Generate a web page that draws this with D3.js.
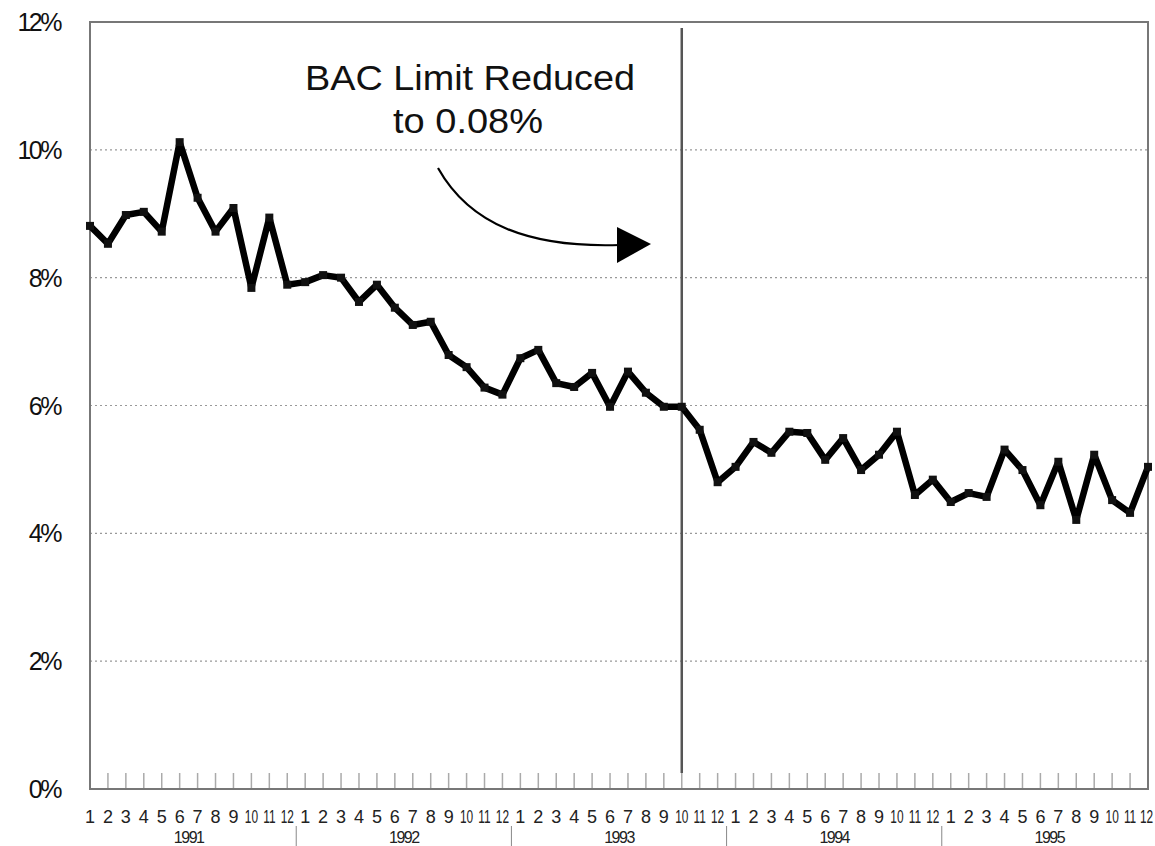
<!DOCTYPE html>
<html><head><meta charset="utf-8">
<script src="https://cdn.jsdelivr.net/npm/d3@7"></script>
<style>body{margin:0;background:#fff}svg{display:block}text{font-family:"Liberation Sans",Arial,sans-serif}</style>
</head><body>
<svg id="c" width="1155" height="846"></svg>
<script>
const years = ["1991","1992","1993","1994","1995"];
const monthLabels = ["1","2","3","4","5","6","7","8","9","10","11","12"];
const values1991 = [8.81,8.53,8.98,9.03,8.72,10.12,9.25,8.72,9.09,7.84,8.94,7.89];
const values1992 = [7.93,8.04,8.00,7.62,7.89,7.53,7.26,7.31,6.79,6.60,6.28,6.17];
const values1993 = [6.74,6.87,6.35,6.29,6.51,5.98,6.53,6.20,5.98,5.98,5.62,4.80];
const values1994 = [5.04,5.43,5.26,5.59,5.57,5.15,5.49,4.99,5.23,5.59,4.60,4.84];
const values1995 = [4.49,4.63,4.57,5.31,4.99,4.44,5.12,4.21,5.23,4.52,4.32,5.04];
const yTicks = [0,2,4,6,8,10,12];
const eventIndex = 33; // Oct 1993
const annotationLines = ["BAC Limit Reduced","to 0.08%"];

const series = [values1991,values1992,values1993,values1994,values1995].flat();
const svg = d3.select("#c");
const L=90,R=1148,T=22,B=789;
const x = d3.scaleLinear().domain([0,series.length-1]).range([L,R]);
const y = d3.scaleLinear().domain([0,12]).range([B,T]);

// gridlines
svg.append("g").selectAll("line").data(yTicks.filter(d=>d>0&&d<12)).join("line")
  .attr("x1",L).attr("x2",R).attr("y1",d=>y(d)).attr("y2",d=>y(d))
  .attr("stroke","#999").attr("stroke-width",1.2).attr("stroke-dasharray","2,3");

// month ticks
svg.append("g").selectAll("line").data(d3.range(1,series.length-1)).join("line")
  .attr("x1",d=>x(d)).attr("x2",d=>x(d)).attr("y1",B).attr("y2",B-16)
  .attr("stroke","#aaa").attr("stroke-width",1.5);

// frame
svg.append("rect").attr("x",L).attr("y",T).attr("width",R-L).attr("height",B-T)
  .attr("fill","none").attr("stroke","#777").attr("stroke-width",2);

// y labels
svg.append("g").selectAll("text").data(yTicks).join("text")
  .attr("x",60).attr("y",d=>y(d)+9).attr("text-anchor","end")
  .attr("font-size",25).attr("letter-spacing",-2.5).attr("fill","#111")
  .text(d=>d+"%");

// month labels
const months = series.map((v,i)=>monthLabels[i%12]);
const last = months.length-1;
svg.append("g").selectAll("g").data(months).join("g")
  .attr("transform",(d,i)=>`translate(${i===last?x(i)-1.5:x(i)},823) scale(${d.length>1?0.66:1},1)`)
  .append("text").attr("text-anchor","middle")
  .attr("font-size",18).attr("fill","#222")
  .text(d=>d);

// year labels and separators
svg.append("g").selectAll("text").data(years).join("text")
  .attr("x",(d,i)=>(x(i*12)+x(i*12+11))/2).attr("y",843).attr("text-anchor","middle")
  .attr("font-size",16).attr("letter-spacing",-1.5).attr("fill","#222")
  .text(d=>d);
svg.append("g").selectAll("line").data(d3.range(1,years.length)).join("line")
  .attr("x1",d=>x(d*12-0.5)).attr("x2",d=>x(d*12-0.5)).attr("y1",826).attr("y2",846)
  .attr("stroke","#888").attr("stroke-width",1);

// event line
svg.append("line").attr("x1",x(eventIndex)).attr("x2",x(eventIndex))
  .attr("y1",28).attr("y2",773).attr("stroke","#555").attr("stroke-width",2.5);

// data line
svg.append("path").datum(series)
  .attr("d",d3.line().x((d,i)=>x(i)).y(d=>y(d)))
  .attr("fill","none").attr("stroke","#000").attr("stroke-width",6.5).attr("stroke-linejoin","round");
svg.append("g").selectAll("rect").data(series).join("rect")
  .attr("x",(d,i)=>x(i)-4).attr("y",d=>y(d)-4).attr("width",8).attr("height",8).attr("fill","#111");

// annotation
svg.append("text").attr("x",470).attr("y",90).attr("text-anchor","middle")
  .attr("font-size",35).attr("fill","#111")
  .attr("textLength",330).attr("lengthAdjust","spacingAndGlyphs").text(annotationLines[0]);
svg.append("text").attr("x",468).attr("y",133).attr("text-anchor","middle")
  .attr("font-size",35).attr("fill","#111")
  .attr("textLength",150).attr("lengthAdjust","spacingAndGlyphs").text(annotationLines[1]);
svg.append("path").attr("d","M438,168 C470,225 530,248 620,245")
  .attr("fill","none").attr("stroke","#000").attr("stroke-width",2.2);
svg.append("path").attr("d","M617,227 L651,244 L617,263 Z").attr("fill","#000");
</script>
</body></html>
